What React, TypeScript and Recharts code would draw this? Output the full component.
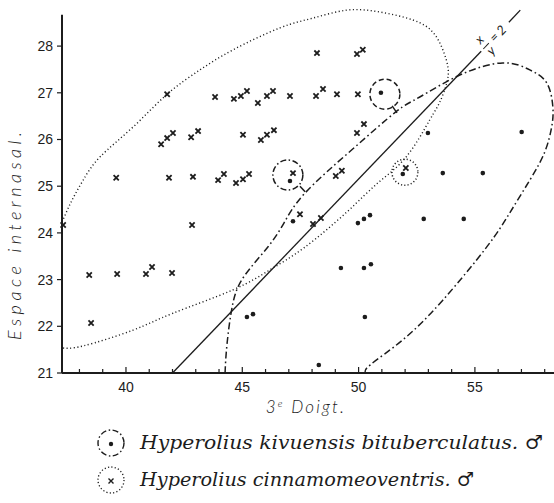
import React from 'react';
import { ScatterChart, Scatter, XAxis, YAxis, ReferenceLine, ReferenceDot, Legend } from 'recharts';

// Hyperolius cinnamomeoventris ♂ (crosses): 3e Doigt (x) vs Espace internasal (y)
const cinnamomeoventris = [
  { x: 48.21, y: 27.85 }, { x: 49.93, y: 27.83 }, { x: 50.18, y: 27.92 },
  { x: 41.77, y: 26.97 }, { x: 43.83, y: 26.91 }, { x: 44.64, y: 26.87 }, { x: 44.94, y: 26.93 },
  { x: 45.2, y: 27.04 }, { x: 45.67, y: 26.78 }, { x: 46.06, y: 26.93 }, { x: 46.32, y: 27.04 },
  { x: 47.05, y: 26.93 }, { x: 48.17, y: 26.93 }, { x: 48.47, y: 27.08 }, { x: 49.07, y: 26.97 },
  { x: 49.97, y: 26.97 },
  { x: 41.51, y: 25.9 }, { x: 41.77, y: 26.03 }, { x: 42.02, y: 26.14 }, { x: 42.8, y: 26.05 },
  { x: 43.1, y: 26.18 }, { x: 45.03, y: 26.1 }, { x: 45.8, y: 25.99 }, { x: 46.06, y: 26.1 },
  { x: 46.36, y: 26.2 }, { x: 49.93, y: 26.14 }, { x: 50.23, y: 26.33 },
  { x: 39.58, y: 25.18 }, { x: 41.85, y: 25.18 }, { x: 42.88, y: 25.2 }, { x: 43.96, y: 25.13 },
  { x: 44.21, y: 25.26 }, { x: 44.73, y: 25.07 }, { x: 45.03, y: 25.15 }, { x: 45.29, y: 25.26 },
  { x: 47.18, y: 25.28 }, { x: 49.02, y: 25.22 }, { x: 49.28, y: 25.33 }, { x: 52.03, y: 25.39 },
  { x: 37.3, y: 24.17 }, { x: 42.84, y: 24.17 }, { x: 47.48, y: 24.4 }, { x: 48.04, y: 24.19 },
  { x: 48.38, y: 24.32 },
  { x: 38.42, y: 23.1 }, { x: 39.62, y: 23.12 }, { x: 40.86, y: 23.12 }, { x: 41.12, y: 23.27 },
  { x: 41.98, y: 23.14 },
  { x: 38.5, y: 22.07 },
];

// Hyperolius kivuensis bituberculatus ♂ (dots)
const kivuensis = [
  { x: 50.96, y: 27.0 }, { x: 47.05, y: 25.11 }, { x: 51.9, y: 25.26 },
  { x: 52.98, y: 26.14 }, { x: 57.01, y: 26.16 },
  { x: 53.62, y: 25.28 }, { x: 55.34, y: 25.28 },
  { x: 47.18, y: 24.25 }, { x: 49.97, y: 24.21 }, { x: 50.23, y: 24.3 }, { x: 50.49, y: 24.38 },
  { x: 52.8, y: 24.3 }, { x: 54.52, y: 24.3 },
  { x: 49.24, y: 23.25 }, { x: 50.23, y: 23.25 }, { x: 50.53, y: 23.33 },
  { x: 45.2, y: 22.2 }, { x: 45.46, y: 22.26 }, { x: 50.27, y: 22.2 },
  { x: 48.29, y: 21.17 },
];

// range outline of cinnamomeoventris (dotted), cut by the y axis
const cinnamomeoRange = [
  { x: 37.25, y: 24.23 }, { x: 37.68, y: 24.7 }, { x: 38.16, y: 25.13 }, { x: 38.89, y: 25.63 },
  { x: 40.31, y: 26.27 }, { x: 41.77, y: 26.97 }, { x: 43.18, y: 27.49 }, { x: 44.6, y: 27.92 },
  { x: 46.62, y: 28.39 }, { x: 48.04, y: 28.6 }, { x: 49.5, y: 28.77 }, { x: 50.91, y: 28.73 },
  { x: 52.33, y: 28.56 }, { x: 53.19, y: 28.3 }, { x: 53.62, y: 27.92 }, { x: 53.84, y: 27.55 },
  { x: 53.79, y: 27.21 }, { x: 53.49, y: 26.8 }, { x: 53.06, y: 26.42 }, { x: 52.05, y: 25.63 },
  { x: 50.83, y: 25.07 }, { x: 49.5, y: 24.45 }, { x: 47.65, y: 23.68 }, { x: 46.19, y: 23.21 },
  { x: 44.6, y: 22.78 }, { x: 42.02, y: 22.28 }, { x: 40.31, y: 21.92 }, { x: 38.16, y: 21.58 },
  { x: 37.25, y: 21.54 },
];

// range outline of kivuensis (dash-dot), cut by the x axis
const kivuensisRange = [
  { x: 44.26, y: 21 }, { x: 44.34, y: 21.6 }, { x: 44.6, y: 22.5 }, { x: 45.12, y: 23.1 },
  { x: 46.1, y: 23.7 }, { x: 46.79, y: 24.21 }, { x: 47.69, y: 24.85 }, { x: 49.71, y: 25.78 },
  { x: 51.6, y: 26.59 }, { x: 52.63, y: 26.91 }, { x: 54.35, y: 27.38 }, { x: 56.2, y: 27.64 },
  { x: 57.36, y: 27.49 }, { x: 58.09, y: 27.21 }, { x: 58.35, y: 26.7 }, { x: 58.3, y: 26.27 },
  { x: 58.0, y: 25.73 }, { x: 57.36, y: 25.13 }, { x: 56.5, y: 24.43 }, { x: 55.51, y: 23.7 },
  { x: 53.62, y: 22.56 }, { x: 51.9, y: 21.71 }, { x: 50.49, y: 21.17 }, { x: 50.31, y: 21 },
];

// circled specimens
const ringDashed = [{ x: 51.13, y: 26.97 }];
const ringDashDot = [{ x: 46.96, y: 25.24 }];
const ringDotted = [{ x: 51.99, y: 25.3 }];
const arrowA = [{ x: 51.44, y: 26.72 }, { x: 51.65, y: 26.57 }];
const arrowB = [{ x: 47.48, y: 25.0 }, { x: 47.7, y: 24.88 }];

// x / y = 2 line
const ratioLow = [{ x: 42.0, y: 21 }, { x: 55.27, y: 27.89 }];
const ratioHigh = [{ x: 56.46, y: 28.51 }, { x: 56.95, y: 28.77 }];
const ratioLabel = { x: 55.48, y: 28.0 };

const xDomain = [37.25, 58.4];
const yDomain = [21, 28.8];
const xTicks = [38, 39, 40, 41, 42, 43, 44, 45, 46, 47, 48, 49, 50, 51, 52, 53, 54, 55, 56, 57, 58];
const xLabelled = [40, 45, 50, 55];
const yTicks = [21, 22, 23, 24, 25, 26, 27, 28];
const yAxisTop = 28.67;

const INK = '#1c1c1c';
const TICK_FONT = "'Liberation Sans', Arial, sans-serif";
const TITLE_FONT = "Lato, 'Open Sans', sans-serif";
const LEGEND_FONT = "'DejaVu Serif', 'Liberation Serif', serif";

const Cross = (p: any) => {
  const { cx, cy } = p;
  const s = 2.6;
  return (
    <path
      d={`M${cx - s},${cy - s}L${cx + s},${cy + s}M${cx - s},${cy + s}L${cx + s},${cy - s}`}
      stroke={INK}
      strokeWidth={1.8}
      fill="none"
    />
  );
};
const Dot = (p: any) => <circle cx={p.cx} cy={p.cy} r={2.3} fill={INK} />;
const Hidden = () => <g />;
const makeRing = (r: number, dash: string) => (p: any) => (
  <circle cx={p.cx} cy={p.cy} r={r} fill="none" stroke={INK} strokeWidth={1.5} strokeDasharray={dash} />
);

const XTick = (p: any) => {
  const { x, y, payload } = p;
  const v = payload.value;
  const major = xLabelled.includes(v);
  return (
    <g>
      <line x1={x} x2={x} y1={y} y2={y - (major ? 6 : 4)} stroke={INK} strokeWidth={1.2} />
      {major && (
        <text x={x} y={y + 19} textAnchor="middle" fontFamily={TICK_FONT} fontSize={14} fill={INK}>
          {v}
        </text>
      )}
    </g>
  );
};

const RatioText = (p: any) => {
  const { cx, cy } = p;
  return (
    <g transform={`translate(${cx},${cy}) rotate(-46.3)`} fontFamily={TITLE_FONT} fontStyle="italic" fontSize={13} fill={INK}>
      <text x={0} y={-5} textAnchor="middle">x</text>
      <line x1={-4} x2={4} y1={0} y2={0} stroke={INK} strokeWidth={1} />
      <text x={0} y={11} textAnchor="middle">y</text>
      <text x={12} y={4} textAnchor="middle">=</text>
      <text x={22} y={4.5} textAnchor="middle">2</text>
    </g>
  );
};

const Overlay = () => (
  <svg width={554} height={503} style={{ display: 'block' }}>
    <text
      transform="translate(21,236) rotate(-90)"
      textAnchor="middle"
      fontFamily={TITLE_FONT}
      fontStyle="italic"
      fontWeight={300}
      fontSize={18}
      textLength={208}
      lengthAdjust="spacing"
      fill={INK}
    >
      Espace internasal.
    </text>
    <text x={306} y={413} textAnchor="middle" fontFamily={TITLE_FONT} fontStyle="italic" fontWeight={300} fontSize={17} letterSpacing={2.2} fill={INK}>
      3<tspan dy={-6} fontSize={10}>e</tspan>
      <tspan dy={6}> Doigt.</tspan>
    </text>
    <circle cx={111} cy={443} r={13} fill="none" stroke={INK} strokeWidth={1.4} strokeDasharray="6 2.5 1.5 2.5" />
    <circle cx={111} cy={444} r={2.2} fill={INK} />
    <text x={140} y={449} fontFamily={LEGEND_FONT} fontStyle="italic" fontSize={19} textLength={403} lengthAdjust="spacingAndGlyphs" fill={INK}>
      Hyperolius kivuensis bituberculatus. ♂
    </text>
    <circle cx={111} cy={480} r={13} fill="none" stroke={INK} strokeWidth={1.3} strokeDasharray="1.2 2.2" />
    <path d="M108.5,478.5L113.5,483.5M108.5,483.5L113.5,478.5" stroke={INK} strokeWidth={1.4} />
    <text x={140} y={486} fontFamily={LEGEND_FONT} fontStyle="italic" fontSize={19} textLength={334} lengthAdjust="spacingAndGlyphs" fill={INK}>
      Hyperolius cinnamomeoventris. ♂
    </text>
  </svg>
);

export default function App() {
  return (
    <div style={{ position: 'absolute', left: 0, top: 0, background: '#fff' }}>
      <ScatterChart width={554} height={503} margin={{ top: 8.74, right: 0, bottom: 100, left: 0 }}>
        <XAxis
          type="number"
          dataKey="x"
          domain={xDomain}
          ticks={xTicks}
          interval={0}
          tickSize={0}
          tickMargin={0}
          tickLine={false}
          tick={<XTick />}
          axisLine={{ stroke: INK, strokeWidth: 2 }}
          height={30}
        />
        <YAxis
          type="number"
          dataKey="y"
          domain={yDomain}
          ticks={yTicks}
          interval={0}
          width={62}
          tickSize={5}
          tickMargin={4}
          axisLine={false}
          tickLine={{ stroke: INK, strokeWidth: 1.2 }}
          tick={{ fontFamily: TICK_FONT, fontSize: 14, fill: INK }}
        />
        <ReferenceLine
          segment={[{ x: xDomain[0], y: yDomain[0] }, { x: xDomain[0], y: yAxisTop }]}
          stroke={INK}
          strokeWidth={2}
        />
        <ReferenceLine segment={ratioLow} stroke={INK} strokeWidth={1.3} />
        <ReferenceLine segment={ratioHigh} stroke={INK} strokeWidth={1.3} />
        <ReferenceLine segment={arrowA} stroke={INK} strokeWidth={1.5} />
        <ReferenceLine segment={arrowB} stroke={INK} strokeWidth={1.5} />
        <ReferenceDot x={ratioLabel.x} y={ratioLabel.y} r={0} shape={RatioText} />
        <Scatter
          data={cinnamomeoRange}
          shape={Hidden}
          line={{ stroke: INK, strokeWidth: 1.4, strokeDasharray: '1.1 2.5', fill: 'none' }}
          lineJointType="natural"
          isAnimationActive={false}
        />
        <Scatter
          data={kivuensisRange}
          shape={Hidden}
          line={{ stroke: INK, strokeWidth: 1.5, strokeDasharray: '7 3 1.6 3', fill: 'none' }}
          lineJointType="natural"
          isAnimationActive={false}
        />
        <Scatter data={ringDashed} shape={makeRing(15, '5 3')} isAnimationActive={false} />
        <Scatter data={ringDashDot} shape={makeRing(15, '6 2.5 1.5 2.5')} isAnimationActive={false} />
        <Scatter data={ringDotted} shape={makeRing(13, '1.1 2.2')} isAnimationActive={false} />
        <Scatter data={cinnamomeoventris} shape={Cross} isAnimationActive={false} />
        <Scatter data={kivuensis} shape={Dot} isAnimationActive={false} />
        <Legend
          layout="horizontal"
          verticalAlign="middle"
          align="center"
          content={() => <Overlay />}
          wrapperStyle={{ left: 0, top: 0, width: 554, height: 503, pointerEvents: 'none', margin: 0, padding: 0 }}
        />
      </ScatterChart>
    </div>
  );
}
